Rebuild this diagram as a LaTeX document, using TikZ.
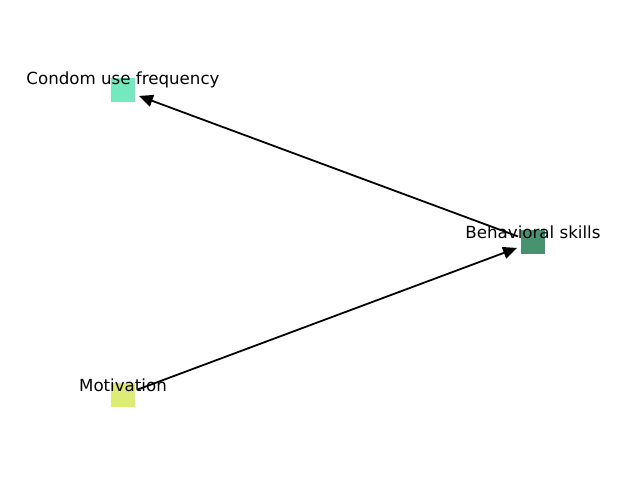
\documentclass[tikz,border=0pt]{standalone}
\usepackage{fontspec}
\setmainfont{DejaVu Sans}
\usetikzlibrary{arrows.meta}

\begin{document}
\begin{tikzpicture}
    [x=1pt,y=-1pt,
     sq/.style={inner sep=0pt,minimum size=24pt},
     lbl/.style={inner sep=0pt,font=\fontsize{16.67}{20}\selectfont,yshift=10pt},
     edge/.style={-{Triangle[length=14pt,width=12pt]},line width=1.8pt,shorten <=16pt,shorten >=17pt}]
    \definecolor{cufcol}{RGB}{116,232,190}
    \definecolor{bscol}{RGB}{72,146,114}
    \definecolor{motcol}{RGB}{220,236,116}
    \useasboundingbox (0,0) rectangle (640,480);
    \node [sq,fill=cufcol] (C) at (123,90) {};
    \node [sq,fill=bscol] (B) at (533,242) {};
    \node [sq,fill=motcol] (M) at (123,395) {};
    \draw[edge] (B.center)--(C.center);
    \draw[edge] (M.center)--(B.center);
    \node [lbl] (CL) at (C) {Condom use frequency};
    \node [lbl] (BL) at (B) {Behavioral skills};
    \node [lbl] (ML) at (M) {Motivation};
\end{tikzpicture}
\end{document}
